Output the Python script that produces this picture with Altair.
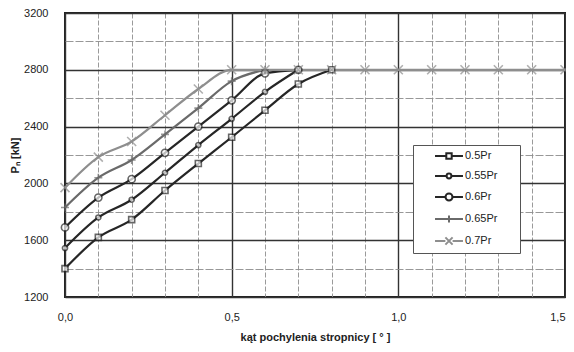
import altair as alt
import pandas as pd

x_vals = [0.0, 0.1, 0.2, 0.3, 0.4, 0.5, 0.6, 0.7, 0.8, 0.9, 1.0, 1.1, 1.2, 1.3, 1.4, 1.5]
series = ["0.5Pr", "0.55Pr", "0.6Pr", "0.65Pr", "0.7Pr"]
s05 = [1400, 1620, 1745, 1950, 2140, 2325, 2515, 2700, 2800]
s055 = [1545, 1760, 1885, 2075, 2270, 2455, 2645, 2800]
s06 = [1690, 1900, 2030, 2215, 2400, 2585, 2775, 2800]
s065 = [1830, 2040, 2165, 2345, 2530, 2720, 2800]
s07 = [1970, 2185, 2295, 2480, 2665, 2800, 2800, 2800, 2800, 2800, 2800, 2800, 2800, 2800, 2800, 2800]
y_ticks = [1200, 1400, 1600, 1800, 2000, 2200, 2400, 2600, 2800, 3000, 3200]

colors = ["#262626", "#262626", "#262626", "#6a6a6a", "#8e8e8e"]
marker_paths = [
    "M-1,-1H1V1H-1Z",
    "M-1,0A1,1,0,1,0,1,0A1,1,0,1,0,-1,0Z",
    "M-1,0A1,1,0,1,0,1,0A1,1,0,1,0,-1,0Z",
    "M-1,0H1M0,-1V1",
    "M-1,-1L1,1M-1,1L1,-1",
]
marker_sizes = [36, 26, 52, 64, 81]
# legend symbols: unit = 6 px, line from -14 px to +14 px
legend_paths = [
    "M-2.33,0H-0.45M0.45,0H2.33M-0.45,-0.45H0.45V0.45H-0.45Z",
    "M-2.33,0H-0.4M0.4,0H2.33M-0.4,0A0.4,0.4,0,1,0,0.4,0A0.4,0.4,0,1,0,-0.4,0Z",
    "M-2.33,0H-0.58M0.58,0H2.33M-0.58,0A0.58,0.58,0,1,0,0.58,0A0.58,0.58,0,1,0,-0.58,0Z",
    "M-2.33,0H2.33M0,-0.6V0.6",
    "M-2.33,0H-0.6M0.6,0H2.33M-0.6,-0.6L0.6,0.6M-0.6,0.6L0.6,-0.6",
]

rows = []
for name, vals in zip(series, [s05, s055, s06, s065, s07]):
    for xv, yv in zip(x_vals, vals):
        rows.append({"series": name, "x": xv, "y": yv})
df = pd.DataFrame(rows)

FONT = "Liberation Sans"
major_x = "abs(datum.value*2 - round(datum.value*2)) < 0.01"
major_y = "datum.value % 400 == 0"

x_enc = alt.X(
    "x:Q",
    scale=alt.Scale(domain=[0, 1.5], nice=False),
    axis=alt.Axis(
        values=x_vals,
        title="kąt pochylenia stropnicy [ ° ]",
        labelExpr=f"{major_x} ? replace(format(datum.value, '.1f'), '.', ',') : ''",
        labelAlign={"condition": {"test": "datum.value > 1.45", "value": "right"}, "value": "center"},
        ticks=False, tickSize=0, domain=False, labelOverlap=False, labelFlush=False,
        labelPadding=14, titlePadding=9,
        gridColor={"condition": {"test": major_x, "value": "#333333"}, "value": "#9a9a9a"},
        gridDash={"condition": {"test": major_x, "value": []}, "value": [5, 2]},
        gridWidth={"condition": {"test": major_x, "value": 1.4}, "value": 1},
    ),
)
y_enc = alt.Y(
    "y:Q",
    scale=alt.Scale(domain=[1200, 3200], nice=False),
    axis=alt.Axis(
        values=y_ticks,
        title="Pₙ [kN]",
        labelExpr=f"{major_y} ? format(datum.value, 'd') : ''",
        ticks=False, tickSize=0, domain=False, labelOverlap=False, labelFlush=False,
        labelPadding=17, titlePadding=3,
        gridColor={"condition": {"test": major_y, "value": "#333333"}, "value": "#8c8c8c"},
        gridDash={"condition": {"test": major_y, "value": []}, "value": [8, 2]},
        gridWidth={"condition": {"test": major_y, "value": 1.4}, "value": 0.9},
    ),
)

base = alt.Chart(df)
stroke_enc = alt.Stroke("series:N", sort=series, scale=alt.Scale(range=colors), legend=None)

lines = base.mark_line(interpolate="monotone", strokeWidth=2.2).encode(
    x=x_enc, y=y_enc, stroke=stroke_enc, order=alt.Order("x:Q"),
)

point_layers = []
for name, path, size in zip(series, marker_paths, marker_sizes):
    point_layers.append(
        base.transform_filter(alt.datum.series == name)
        .mark_point(shape=path, size=size, filled=True, fill="white", strokeWidth=1.6)
        .encode(x=x_enc, y=y_enc, stroke=stroke_enc)
    )

leg = alt.Legend(
    title=None, orient="none", legendX=348, legendY=132,
    symbolSize=144, symbolStrokeWidth=2, symbolOpacity=1,
    labelFont=FONT, labelFontSize=11, labelColor="#222222", labelOffset=9,
    labelExpr="datum.label + '\u00a0\u00a0\u00a0\u00a0\u00a0\u00a0\u200b'",
    strokeColor="#555555", fillColor="white", padding=4, rowPadding=6,
    symbolOffset=25,
)
legend_layer = base.mark_point(opacity=0, filled=False).encode(
    x=x_enc, y=y_enc,
    color=alt.Color("series:N", scale=alt.Scale(domain=series, range=colors), legend=leg),
    shape=alt.Shape("series:N", scale=alt.Scale(domain=series, range=legend_paths), legend=leg),
)

chart = alt.layer(lines, *point_layers, legend_layer).properties(
    width=500, height=284,
    autosize=alt.AutoSizeParams(type="none"),
    padding={"left": 57, "top": 5, "right": 1, "bottom": 47},
).configure_view(
    stroke="#222222", strokeWidth=2
).configure_axis(
    labelFont=FONT, labelFontSize=11, labelColor="#222222",
    titleFont=FONT, titleFontSize=11, titleFontWeight="bold", titleColor="#222222",
)

chart.save("out.html", embed_options={"renderer": "svg", "actions": False})
